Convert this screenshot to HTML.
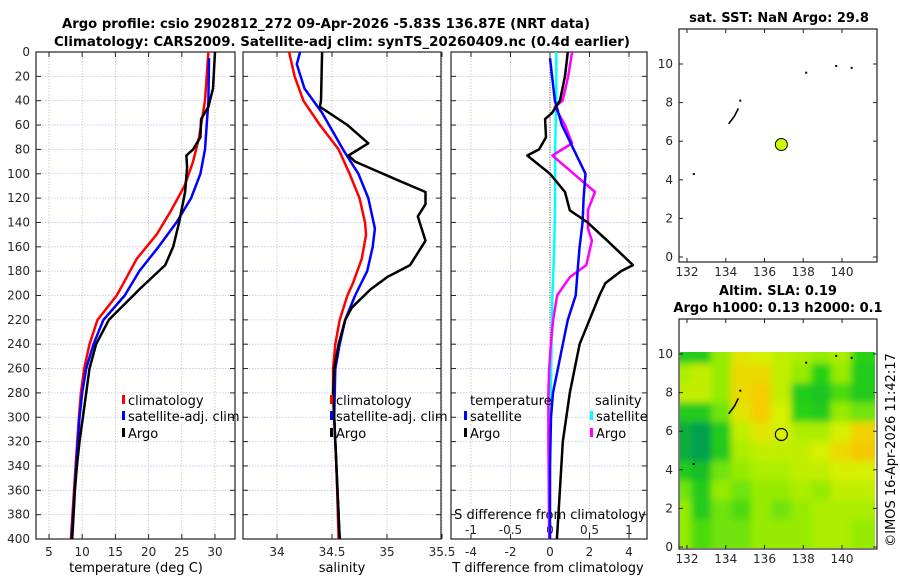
<!DOCTYPE html>
<html><head><meta charset="utf-8">
<style>
html,body{margin:0;padding:0;background:#fff;}
svg{display:block;font-family:"DejaVu Sans","Liberation Sans",sans-serif;}
.t{font-size:13px;font-weight:bold;fill:#000;}
.tk{font-size:12px;fill:#262626;}
.lg{font-size:13px;fill:#000;}
</style></head><body>
<svg id="chart" width="900" height="580" viewBox="0 0 900 580" xmlns="http://www.w3.org/2000/svg">
<text class="t" x="326" y="28" text-anchor="middle" textLength="528" lengthAdjust="spacingAndGlyphs">Argo profile: csio 2902812_272 09-Apr-2026 -5.83S 136.87E (NRT data)</text>
<text class="t" x="342" y="46" text-anchor="middle" textLength="576" lengthAdjust="spacingAndGlyphs">Climatology: CARS2009. Satellite-adj clim: synTS_20260409.nc (0.4d earlier)</text>
<g id="g"></g>
</svg>
<script>
// ---------- data ----------
const depthTicks = [0,20,40,60,80,100,120,140,160,180,200,220,240,260,280,300,320,340,360,380,400];
const tempTicks = [5,10,15,20,25,30];
const salTicks = [34,34.5,35,35.5];
const tdiffTicks = [-4,-2,0,2,4];
const sdiffTicks = [-1,-0.5,0,0.5,1];

const argoTDepth = [0,30,45,55,70,80,85,95,115,140,160,175,195,200,220,240,260,280,300,320,340,360,380,400];
const argoT      = [30.0,29.7,29.0,27.9,27.8,26.7,25.7,25.8,25.5,24.6,23.7,22.5,18.6,17.7,14.0,12.1,11.1,10.6,10.1,9.6,9.2,8.9,8.7,8.5];
const climTDepth = [0,40,70,90,110,130,150,170,190,200,220,240,260,280,300,340,400];
const climT      = [29.0,28.5,27.6,26.7,25.4,23.4,21.2,18.2,16.2,15.2,12.3,11.1,10.3,9.8,9.5,9.0,8.3];
const satTDepth  = [5,40,80,100,120,140,160,180,200,220,240,260,280,300,340,400];
const satT       = [29.1,29.0,28.5,27.8,26.4,24.2,21.5,18.6,16.4,13.2,11.7,10.6,10.0,9.6,9.1,8.4];

const argoSDepth = [0,40,45,60,75,85,90,105,115,125,135,155,175,185,195,210,220,240,260,280,300,340,400];
const argoS      = [34.41,34.40,34.39,34.64,34.83,34.65,34.71,35.09,35.35,35.35,35.28,35.35,35.21,35.00,34.85,34.68,34.62,34.56,34.52,34.51,34.52,34.54,34.57];
const climSDepth = [0,20,40,60,80,100,120,140,150,170,190,200,220,240,260,280,340,400];
const climS      = [34.11,34.16,34.24,34.39,34.56,34.66,34.75,34.80,34.81,34.77,34.69,34.64,34.57,34.53,34.51,34.51,34.54,34.56];
const satSDepth  = [0,10,30,50,80,100,120,145,160,180,200,220,240,260,300,340,400];
const satS       = [34.21,34.18,34.25,34.41,34.60,34.74,34.83,34.89,34.87,34.82,34.71,34.62,34.57,34.53,34.52,34.54,34.57];

const dArgoTDepth = [0,20,40,50,55,70,80,85,100,115,130,140,155,175,180,190,200,240,280,320,360,400];
const dArgoT      = [0.9,0.76,0.5,0.1,-0.25,-0.2,-0.55,-1.15,0.0,0.76,1.0,1.9,2.9,4.2,3.6,2.8,2.5,1.5,1.0,0.65,0.5,0.35];
const dSatTDepth  = [5,40,60,80,100,120,140,160,180,200,220,240,260,280,300,340,400];
const dSatT       = [0.0,0.25,0.6,1.2,1.8,1.7,1.65,1.5,1.4,1.3,0.9,0.65,0.4,0.15,0.05,0.0,0.0];
const dArgoSDepth = [0,20,40,45,60,75,85,95,115,130,145,155,175,185,200,220,240,260,280,320,400];
const dArgoS      = [0.28,0.23,0.16,0.06,0.19,0.28,0.03,0.21,0.57,0.48,0.48,0.53,0.46,0.25,0.09,0.04,0.01,-0.01,-0.02,-0.02,-0.01];
const dSatSDepth  = [0,40,80,120,160,200,260,400];
const dSatS       = [0.08,0.08,0.065,0.065,0.055,0.03,0.015,-0.01];

const mapLonTicks = [132,134,136,138,140];
const mapLatTicks = [0,2,4,6,8,10];
const floatLon = 136.87, floatLat = 5.83;
const slaGrid = [
 [0.30,0.30,0.50,0.70,0.65,0.60,0.55,0.50,0.55,0.35],
 [0.55,0.60,0.50,0.75,0.75,0.60,0.50,0.35,0.50,0.30],
 [0.60,0.60,0.50,0.75,0.80,0.60,0.30,0.25,0.40,0.30],
 [0.30,0.30,0.45,0.70,0.80,0.65,0.35,0.30,0.50,0.45],
 [0.12,0.05,0.30,0.60,0.70,0.65,0.55,0.55,0.65,0.78],
 [0.12,0.05,0.30,0.55,0.60,0.60,0.60,0.65,0.75,0.82],
 [0.30,0.20,0.45,0.50,0.55,0.55,0.60,0.60,0.65,0.65],
 [0.45,0.30,0.50,0.45,0.50,0.50,0.55,0.50,0.60,0.60],
 [0.50,0.30,0.45,0.40,0.50,0.45,0.50,0.55,0.55,0.55],
 [0.50,0.40,0.45,0.45,0.50,0.50,0.50,0.55,0.55,0.50]];

// ---------- helpers ----------
const NS="http://www.w3.org/2000/svg";
const G=document.getElementById('g');
function mk(tag,attrs,parent){const e=document.createElementNS(NS,tag);for(const k in attrs)e.setAttribute(k,attrs[k]);(parent||G).appendChild(e);return e;}
const Y0=52, Y1=539;
function yD(d){return Y0+(Y1-Y0)*d/400;}
function lin(v0,p0,v1,p1){return v=>p0+(v-v0)*(p1-p0)/(v1-v0);}
const xT=lin(5,49,30,215);
const xS=lin(34,277,35,387);
const xDT=lin(0,550,4,629);
const xDS=lin(0,550,1,629);

function panel(name,x0,x1,xticks,xf,showY){
  const g=mk('g',{});
  
  
  depthTicks.forEach(d=>{const y=yD(d);
    if(d>0&&d<400){const l=mk('line',{x1:x0,x2:x1,y1:y,y2:y,stroke:'#b8c4ec','stroke-width':0.8,'stroke-dasharray':'1.5,1.5'},g);
      }
    mk('line',{x1:x0,x2:x0+5,y1:y,y2:y,stroke:'#222'},g);
    mk('line',{x1:x1-5,x2:x1,y1:y,y2:y,stroke:'#222'},g);
    if(showY){const t=mk('text',{x:x0-6,y:y+4,'text-anchor':'end',class:'tk'},g);t.textContent=d;
      }
  });
  xticks.forEach(v=>{const x=xf(v);
    const l=mk('line',{x1:x,x2:x,y1:Y0,y2:Y1,stroke:'#d8b8c0','stroke-width':0.8,'stroke-dasharray':'1.5,1.5'},g);
    
    mk('line',{x1:x,x2:x,y1:Y1-5,y2:Y1,stroke:'#222'},g);
    mk('line',{x1:x,x2:x,y1:Y0,y2:Y0+5,stroke:'#222'},g);
  });
  const r=mk('rect',{x:x0,y:Y0,width:x1-x0,height:Y1-Y0,fill:'none',stroke:'#222','stroke-width':1.2},g);
  
  return g;
}
function series(name,depths,vals,xf,color,w,dash){
  const pts=depths.map((d,i)=>xf(vals[i]).toFixed(1)+','+yD(d).toFixed(1)).join(' ');
  const p=mk('polyline',{points:pts,fill:'none',stroke:color,'stroke-width':w||2.5,'stroke-linejoin':'round'});
  if(dash)p.setAttribute('stroke-dasharray',dash);
  
  
}
function txt(s,x,y,cls,anchor,name){const t=mk('text',{x:x,y:y,class:cls,'text-anchor':anchor||'start'});t.textContent=s;
  return t;}
function legendEntry(label,x,y,color,name){
  const g=mk('g',{});
  
  
  mk('rect',{x:x,y:y-10,width:3,height:9,fill:color},g);
  const t=mk('text',{x:x+6,y:y,class:'lg'},g);t.textContent=label;
}

// ---------- panel 1: temperature ----------
panel('temperature-panel',36,235,tempTicks,xT,true);
tempTicks.forEach(v=>txt(v,xT(v),556,'tk','middle','temperature-tick-label'));
txt('temperature (deg C)',136,572,'lg','middle','temperature-axis-title');
series('climatology-temperature-line',climTDepth,climT,xT,'#ff0000');
series('satellite-temperature-line',satTDepth,satT,xT,'#0000ff');
series('argo-temperature-line',argoTDepth,argoT,xT,'#000000');
legendEntry('climatology',122,405,'#ff0000','legend-climatology');
legendEntry('satellite-adj. clim',122,421,'#0000ff','legend-satellite-adj-clim');
legendEntry('Argo',122,438,'#000000','legend-argo');

// ---------- panel 2: salinity ----------
panel('salinity-panel',243,441,salTicks,xS,false);
salTicks.forEach(v=>txt(v,xS(v),556,'tk','middle','salinity-tick-label'));
txt('salinity',342,572,'lg','middle','salinity-axis-title');
series('climatology-salinity-line',climSDepth,climS,xS,'#ff0000');
series('satellite-salinity-line',satSDepth,satS,xS,'#0000ff');
series('argo-salinity-line',argoSDepth,argoS,xS,'#000000');
legendEntry('climatology',330,405,'#ff0000','legend-climatology-2');
legendEntry('satellite-adj. clim',330,421,'#0000ff','legend-satellite-adj-clim-2');
legendEntry('Argo',330,438,'#000000','legend-argo-2');

// ---------- panel 3: differences ----------
panel('difference-panel',451,647,tdiffTicks,xDT,false);
tdiffTicks.forEach(v=>txt(v,xDT(v),556,'tk','middle','tdiff-tick-label'));
txt('T difference from climatology',548,572,'lg','middle','tdiff-axis-title');
txt('S difference from climatology',550,519,'lg','middle','sdiff-axis-title');
sdiffTicks.forEach(v=>txt(v,xDS(v),534,'tk','middle','sdiff-tick-label'));
(function(){const l=mk('line',{x1:550,x2:550,y1:Y0,y2:Y1,stroke:'#445533','stroke-width':1,'stroke-dasharray':'1,1.5'});
 })();
series('satellite-salinity-diff-line',dSatSDepth,dSatS,xDS,'#00ffff');
series('argo-salinity-diff-line',dArgoSDepth,dArgoS,xDS,'#ff00ff');
series('satellite-temperature-diff-line',dSatTDepth,dSatT,xDT,'#0000ff');
series('argo-temperature-diff-line',dArgoTDepth,dArgoT,xDT,'#000000');
txt('temperature',470,405,'lg','start','legend-temperature-header');
txt('salinity',595,405,'lg','start','legend-salinity-header');
legendEntry('satellite',464,421,'#0000ff','legend-temp-satellite');
legendEntry('Argo',464,438,'#000000','legend-temp-argo');
legendEntry('satellite',590,421,'#00ffff','legend-sal-satellite');
legendEntry('Argo',590,438,'#ff00ff','legend-sal-argo');

// ---------- maps ----------
function mapAxes(name,top,bottom,lat0y,lat10y){
  const xM=lin(132,687,140,842), yM=lin(0,lat0y,10,lat10y);
  const g=mk('g',{});
  
  
  const r=mk('rect',{x:679,y:top,width:198,height:bottom-top,fill:'none',stroke:'#222','stroke-width':1.2},g);
  
  mapLonTicks.forEach(v=>{const x=xM(v);mk('line',{x1:x,x2:x,y1:bottom-4,y2:bottom,stroke:'#222'},g);mk('line',{x1:x,x2:x,y1:top,y2:top+4,stroke:'#222'},g);
    const t=mk('text',{x:x,y:bottom+14,class:'tk','text-anchor':'middle'},g);t.textContent=v;
    });
  mapLatTicks.forEach(v=>{const y=yM(v);mk('line',{x1:679,x2:683,y1:y,y2:y,stroke:'#222'},g);mk('line',{x1:873,x2:877,y1:y,y2:y,stroke:'#222'},g);
    const t=mk('text',{x:673,y:y+4,class:'tk','text-anchor':'end'},g);t.textContent=v;
    });
  return {xM,yM,g};
}
function coast(m,parent){
  const pts=[[134.15,6.9],[134.3,7.1],[134.45,7.3],[134.6,7.6],[134.65,7.7]];
  const p=mk('polyline',{points:pts.map(q=>m.xM(q[0])+','+m.yM(q[1])).join(' '),fill:'none',stroke:'#000','stroke-width':1.6},parent);
  
  [[134.75,8.1],[132.35,4.3],[138.15,9.55],[139.7,9.9],[140.5,9.8]].forEach(q=>{
    const c=mk('rect',{x:m.xM(q[0])-1,y:m.yM(q[1])-1,width:2,height:2,fill:'#000'},parent);
    });
}
// map 1 SST
txt('sat. SST: NaN Argo: 29.8',779,22,'t','middle','sst-map-title');
const m1=mapAxes('sst-map',29,262,257,64);
coast(m1,m1.g);
(function(){const c=mk('circle',{cx:m1.xM(floatLon),cy:m1.yM(floatLat),r:6,fill:'#ccff00',stroke:'#000','stroke-width':1});
 })();

// map 2 SLA
txt('Altim. SLA: 0.19',778,295,'t','middle','sla-map-title-1');
txt('Argo h1000: 0.13 h2000: 0.1',778,312,'t','middle','sla-map-title-2');
const m2=mapAxes('sla-map',319,549,547,354);
(function(){
  const defs=mk('defs',{});
  const f=mk('filter',{id:'bl',x:'-5%',y:'-5%',width:'110%',height:'110%'},defs);
  mk('feGaussianBlur',{stdDeviation:'3.5'},f);
  const cp=mk('clipPath',{id:'cp'},defs);
  mk('rect',{x:680,y:352,width:195,height:196},cp);
  const outer=mk('g',{'clip-path':'url(#cp)'});
  const hm=mk('g',{filter:'url(#bl)'},outer);
  
  
  function col(v){const stops=[[0,[0,150,90]],[0.2,[20,190,40]],[0.35,[40,210,20]],[0.5,[150,235,0]],[0.65,[215,240,0]],[0.8,[245,205,0]],[1,[240,150,0]]];
    for(let i=1;i<stops.length;i++){if(v<=stops[i][0]){const a=stops[i-1],b=stops[i],t=(v-a[0])/(b[0]-a[0]);
      return 'rgb('+a[1].map((c,k)=>Math.round(c+(b[1][k]-c)*t)).join(',')+')';}}return 'rgb(240,150,0)';}
  const nr=slaGrid.length,nc=slaGrid[0].length;
  const lonW=(141.9-131.6)/nc, latH=10.1/nr;
  slaGrid.forEach((row,ri)=>row.forEach((v,ci)=>{
    const x=m2.xM(131.6+ci*lonW)-8, y=m2.yM(10.1-ri*latH)-8;
    const w=m2.xM(131.6+(ci+1)*lonW)-m2.xM(131.6+ci*lonW)+16;
    const h=m2.yM(10.1-(ri+1)*latH)-m2.yM(10.1-ri*latH)+16;
    const cell=mk('rect',{x:x.toFixed(1),y:y.toFixed(1),width:w.toFixed(1),height:h.toFixed(1),fill:col(v)},hm);
    
    
  }));
  m2.g.parentNode.appendChild(m2.g);
  coast(m2,G);
  const c=mk('circle',{cx:m2.xM(floatLon),cy:m2.yM(floatLat),r:6,fill:'none',stroke:'#000','stroke-width':1.2});
  
  
})();
(function(){const t=mk('text',{x:0,y:0,class:'lg',transform:'translate(895,450) rotate(-90)','text-anchor':'middle'});
 t.textContent='©IMOS 16-Apr-2026 11:42:17';
 })();
</script>
</body></html>
